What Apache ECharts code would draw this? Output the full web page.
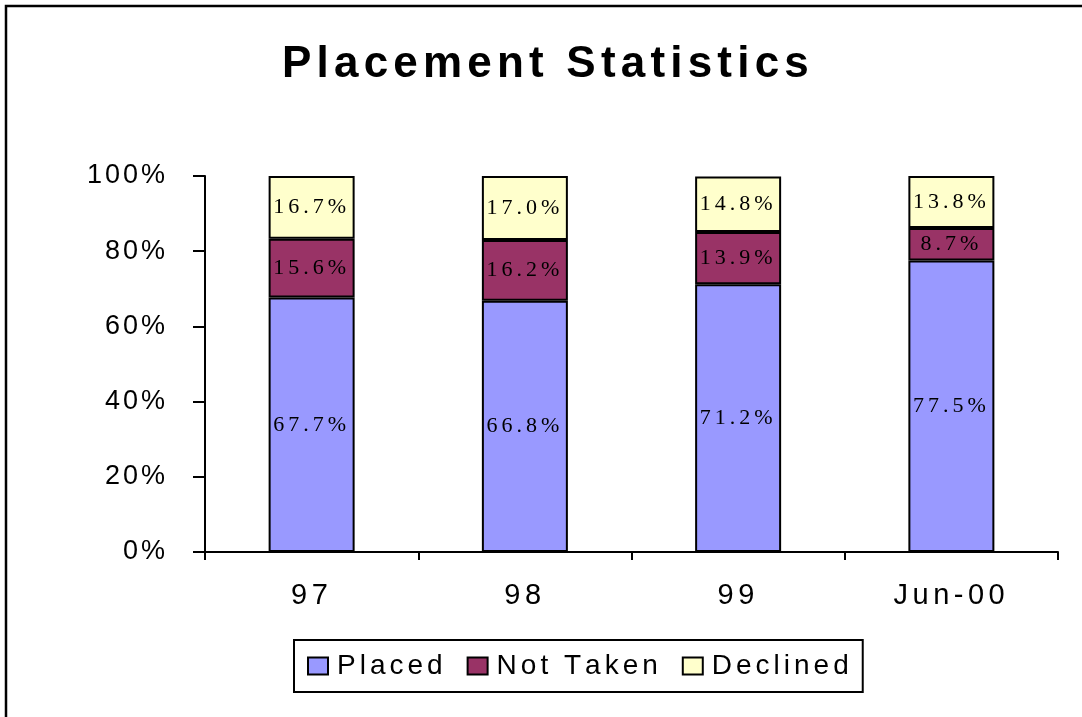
<!DOCTYPE html>
<html>
<head>
<meta charset="utf-8">
<script src="https://cdn.jsdelivr.net/npm/echarts@6/dist/echarts.min.js"></script>
<style>
  html, body { margin: 0; padding: 0; background: #fff; }
  #chart { width: 1082px; height: 717px; }
</style>
</head>
<body>
<div id="chart"></div>
<script>
// ---- data ----
const categories = ['97', '98', '99', 'Jun-00'];
const placed = [67.7, 66.8, 71.2, 77.5];
const notTaken = [15.6, 16.2, 13.9, 8.7];
const declined = [16.7, 17.0, 14.8, 13.8];
const seriesNames = ['Placed', 'Not Taken', 'Declined'];
const yTicks = [0, 20, 40, 60, 80, 100];
const titleText = 'Placement Statistics';

// letter-spaced text via rich tokens
function spaced(str, style, firstStyle) {
  return str.split('').map((c, i) =>
    '{' + ((i === 0 && firstStyle) ? firstStyle : style) + '|' + c + '}').join('');
}

const SANS = 'Liberation Sans, Arial, sans-serif';
const SERIF = 'Liberation Serif, Times New Roman, serif';

const chart = echarts.init(document.getElementById('chart'), null, { renderer: 'canvas' });

const labelRich = {
  v: { fontFamily: SERIF, fontSize: 22, color: '#000', padding: [0, 4, 0, 0] }
};

function barSeries(name, data, color) {
  return {
    name: name,
    type: 'bar',
    stack: 'total',
    data: data,
    barWidth: 86,
    itemStyle: { color: color, borderColor: '#000', borderWidth: 2 },
    label: {
      show: true,
      position: 'inside',
      formatter: p => spaced(p.value.toFixed(1) + '%', 'v'),
      rich: labelRich
    },
    emphasis: { disabled: true }
  };
}

const legendFont = { fontFamily: SANS, fontSize: 28, color: '#000' };

chart.setOption({
  animation: false,
  backgroundColor: '#fff',
  title: {
    text: spaced(titleText, 't'),
    left: 277,
    top: 38,
    textStyle: {
      fontFamily: SANS, fontWeight: 'bold', fontSize: 44, color: '#000',
      rich: { t: { fontFamily: SANS, fontWeight: 'bold', fontSize: 44, color: '#000', padding: [0, 5.2, 0, 0] } }
    }
  },
  graphic: [{
    type: 'rect',
    shape: { x: 6, y: 6, width: 1200, height: 1000 },
    style: { fill: null, stroke: '#000', lineWidth: 2.5 },
    silent: true
  }],
  legend: {
    data: seriesNames,
    left: 294,
    top: 640,
    orient: 'horizontal',
    icon: 'rect',
    itemWidth: 20,
    itemHeight: 17,
    itemGap: 24,
    padding: [12, 14, 12, 13],
    borderColor: '#000',
    borderWidth: 2,
    formatter: name => spaced(name, 'l', 'f'),
    textStyle: Object.assign({}, legendFont, {
      rich: {
        l: Object.assign({}, legendFont, { padding: [0, 4, 0, 0] }),
        f: Object.assign({}, legendFont, { padding: [0, 4, 0, 4] })
      }
    }),
    selectedMode: false
  },
  grid: {
    left: 205, right: 24, top: 176, bottom: 165,
    outerBoundsMode: 'none'
  },
  xAxis: {
    type: 'category',
    data: categories,
    boundaryGap: true,
    axisLine: { show: true, lineStyle: { color: '#000', width: 2 } },
    axisTick: { show: true, length: 8, lineStyle: { color: '#000', width: 2 } },
    axisLabel: {
      margin: 29,
      formatter: v => spaced(v, 'x'),
      rich: { x: { fontFamily: SANS, fontSize: 29, color: '#000', padding: [0, 4.5, 0, 0] } }
    },
    splitLine: { show: false }
  },
  yAxis: {
    type: 'value',
    min: 0,
    max: 100,
    interval: 20,
    axisLine: { show: true, lineStyle: { color: '#000', width: 2 } },
    axisTick: { show: true, length: 12, lineStyle: { color: '#000', width: 2 } },
    axisLabel: {
      margin: 37,
      formatter: v => spaced(v + '%', 'y'),
      rich: { y: { fontFamily: SANS, fontSize: 27, color: '#000', padding: [0, 3, 0, 0] } }
    },
    splitLine: { show: false }
  },
  series: [
    barSeries(seriesNames[0], placed, '#9999FF'),
    barSeries(seriesNames[1], notTaken, '#993366'),
    barSeries(seriesNames[2], declined, '#FFFFCC')
  ]
});
</script>
</body>
</html>
